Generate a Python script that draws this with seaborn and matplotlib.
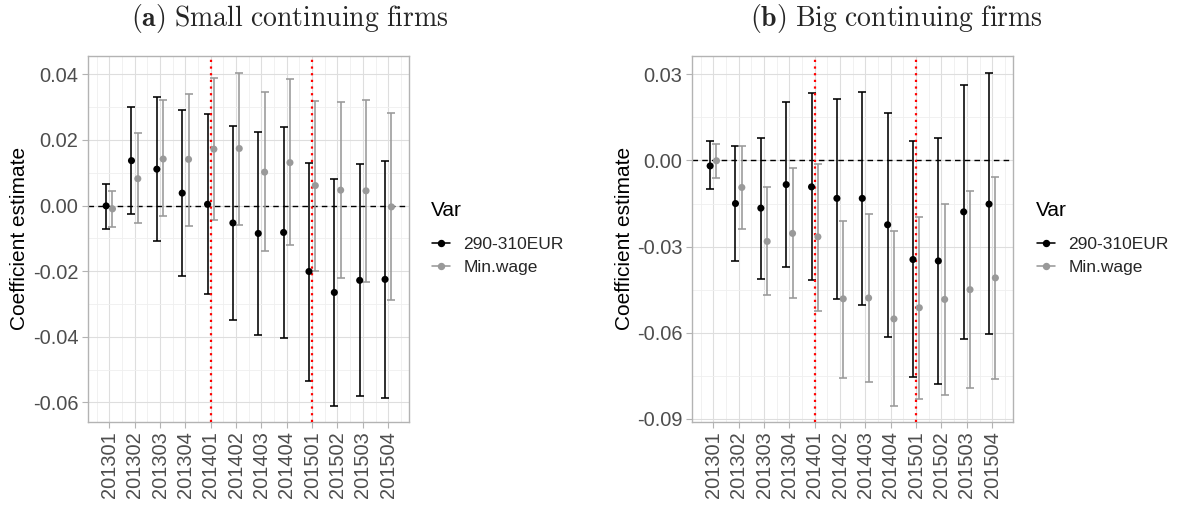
import numpy as np
import pandas as pd
import matplotlib
matplotlib.use("Agg")
import matplotlib.pyplot as plt
from matplotlib.lines import Line2D
from matplotlib.ticker import MultipleLocator, FormatStrFormatter
import seaborn as sns

periods = ["201301", "201302", "201303", "201304", "201401", "201402",
           "201403", "201404", "201501", "201502", "201503", "201504"]
series_names = ["290-310EUR", "Min.wage"]

# Panel (a) Small continuing firms
a_eur_est = [-0.0001, 0.0137, 0.0111, 0.0038, 0.0004, -0.0053, -0.0085, -0.0082, -0.0201, -0.0265, -0.0228, -0.0225]
a_eur_hi = [0.0066, 0.0301, 0.0330, 0.0290, 0.0278, 0.0242, 0.0224, 0.0240, 0.0130, 0.0081, 0.0127, 0.0136]
a_eur_lo = [-0.0070, -0.0026, -0.0108, -0.0214, -0.0271, -0.0348, -0.0395, -0.0404, -0.0536, -0.0611, -0.0582, -0.0586]
a_mw_est = [-0.0010, 0.0082, 0.0142, 0.0141, 0.0172, 0.0174, 0.0102, 0.0131, 0.0061, 0.0047, 0.0045, -0.0004]
a_mw_hi = [0.0045, 0.0222, 0.0321, 0.0340, 0.0389, 0.0404, 0.0345, 0.0385, 0.0320, 0.0317, 0.0323, 0.0283]
a_mw_lo = [-0.0065, -0.0054, -0.0033, -0.0061, -0.0045, -0.0058, -0.0140, -0.0121, -0.0201, -0.0221, -0.0233, -0.0287]

# Panel (b) Big continuing firms
b_eur_est = [-0.0019, -0.0150, -0.0166, -0.0084, -0.0092, -0.0132, -0.0132, -0.0224, -0.0345, -0.0350, -0.0179, -0.0152]
b_eur_hi = [0.0067, 0.0049, 0.0080, 0.0204, 0.0234, 0.0214, 0.0238, 0.0167, 0.0067, 0.0080, 0.0264, 0.0303]
b_eur_lo = [-0.0101, -0.0350, -0.0412, -0.0372, -0.0418, -0.0481, -0.0502, -0.0616, -0.0756, -0.0778, -0.0622, -0.0606]
b_mw_est = [-0.0001, -0.0094, -0.0282, -0.0254, -0.0266, -0.0482, -0.0479, -0.0552, -0.0513, -0.0484, -0.0450, -0.0409]
b_mw_hi = [0.0058, 0.0049, -0.0092, -0.0027, -0.0012, -0.0210, -0.0188, -0.0246, -0.0197, -0.0153, -0.0106, -0.0056]
b_mw_lo = [-0.0060, -0.0237, -0.0469, -0.0480, -0.0523, -0.0757, -0.0771, -0.0856, -0.0832, -0.0816, -0.0791, -0.0762]

event_periods = ["201401", "201501"]

sns.set_theme(style="whitegrid")
plt.rcParams["font.family"] = ["Liberation Sans", "DejaVu Sans"]
plt.rcParams["axes.unicode_minus"] = False
plt.rcParams["mathtext.fontset"] = "cm"

colors = {"290-310EUR": "#000000", "Min.wage": "#999999"}
offsets = {"290-310EUR": -0.125, "Min.wage": 0.125}


def make_df(eur, eur_lo, eur_hi, mw, mw_lo, mw_hi):
    rows = []
    for name, est, lo, hi in [("290-310EUR", eur, eur_lo, eur_hi),
                              ("Min.wage", mw, mw_lo, mw_hi)]:
        for i, p in enumerate(periods):
            rows.append(dict(period=p, idx=i, Var=name, est=est[i], lo=lo[i], hi=hi[i]))
    df = pd.DataFrame(rows)
    df["x"] = df["idx"] + df["Var"].map(offsets)
    return df


W, H = 1181, 505
fig = plt.figure(figsize=(W / 100, H / 100), dpi=100)

panels = [
    dict(df=make_df(a_eur_est, a_eur_lo, a_eur_hi, a_mw_est, a_mw_lo, a_mw_hi),
         rect=[88, 55.7, 409, 421.7], ylim=(-0.0659, 0.0457), major=0.02, minor=0.01,
         title=r"$\mathbf{(a)}\ \mathrm{Small\ continuing\ firms}$", tx=290,
         legx=431, ylx=20),
    dict(df=make_df(b_eur_est, b_eur_lo, b_eur_hi, b_mw_est, b_mw_lo, b_mw_hi),
         rect=[692, 55.7, 1013, 421.7], ylim=(-0.0910, 0.0365), major=0.03, minor=0.015,
         title=r"$\mathbf{(b)}\ \mathrm{Big\ continuing\ firms}$", tx=896,
         legx=1036, ylx=624),
]

for p in panels:
    x0, y0, x1, y1 = p["rect"]
    ax = fig.add_axes([x0 / W, 1 - y1 / H, (x1 - x0) / W, (y1 - y0) / H])
    df = p["df"]
    ax.set_axisbelow(True)
    ax.axhline(0, color="black", ls=(0, (4, 3)), lw=1.0, zorder=1)
    for ep in event_periods:
        ax.axvline(periods.index(ep), color="red", ls=(0, (1, 2)), lw=1.6, zorder=4)
    for name in series_names:
        d = df[df["Var"] == name]
        ax.errorbar(d["x"], d["est"], yerr=[d["est"] - d["lo"], d["hi"] - d["est"]],
                    fmt="none", ecolor=colors[name], elinewidth=1.15, capsize=3.2,
                    capthick=1.15, zorder=3)
    sns.scatterplot(data=df, x="x", y="est", hue="Var", palette=colors,
                    hue_order=series_names, s=26, edgecolor="none", legend=False,
                    ax=ax, zorder=5)
    ax.set_xlim(-0.84, 11.82)
    ax.set_ylim(*p["ylim"])
    ax.set_xticks(range(len(periods)))
    ax.set_xticklabels(periods, rotation=90)
    ax.xaxis.set_minor_locator(MultipleLocator(0.5))
    ax.yaxis.set_major_locator(MultipleLocator(p["major"]))
    ax.yaxis.set_minor_locator(MultipleLocator(p["minor"]))
    ax.yaxis.set_major_formatter(FormatStrFormatter("%.2f"))
    ax.grid(which="major", color="#DEDEDE", lw=0.8)
    ax.grid(which="minor", color="#EFEFEF", lw=0.6)
    ax.tick_params(axis="both", which="major", labelsize=14.4, labelcolor="#4D4D4D",
                   color="#B3B3B3", length=4, width=0.8, bottom=True, left=True, pad=3)
    ax.tick_params(which="minor", length=0)
    for s in ax.spines.values():
        s.set_color("#B3B3B3")
        s.set_linewidth(1.0)
    ax.set_xlabel("")
    ax.set_ylabel("")
    fig.text(p["ylx"] / W, 1 - (y0 + y1) / 2 / H, "Coefficient estimate",
             rotation=90, ha="center", va="center", fontsize=15, color="black")
    fig.text(p["tx"] / W, 1 - 18.5 / H, p["title"], ha="center", va="center", fontsize=20)

    fig.text(p["legx"] / W, 1 - 211 / H, "Var", ha="left", va="center",
             fontsize=15, color="black")
    handles = [Line2D([0], [0], color=colors[n], marker="o", markersize=4.3, lw=1.15)
               for n in series_names]
    fig.legend(handles, series_names, loc="center left",
               bbox_to_anchor=((p["legx"] + 1) / W, 1 - 256 / H), frameon=False,
               fontsize=12.5, handlelength=1.05, handletextpad=0.75,
               labelspacing=0.45, borderpad=0, borderaxespad=0)

fig.savefig("out.png", dpi=100)
